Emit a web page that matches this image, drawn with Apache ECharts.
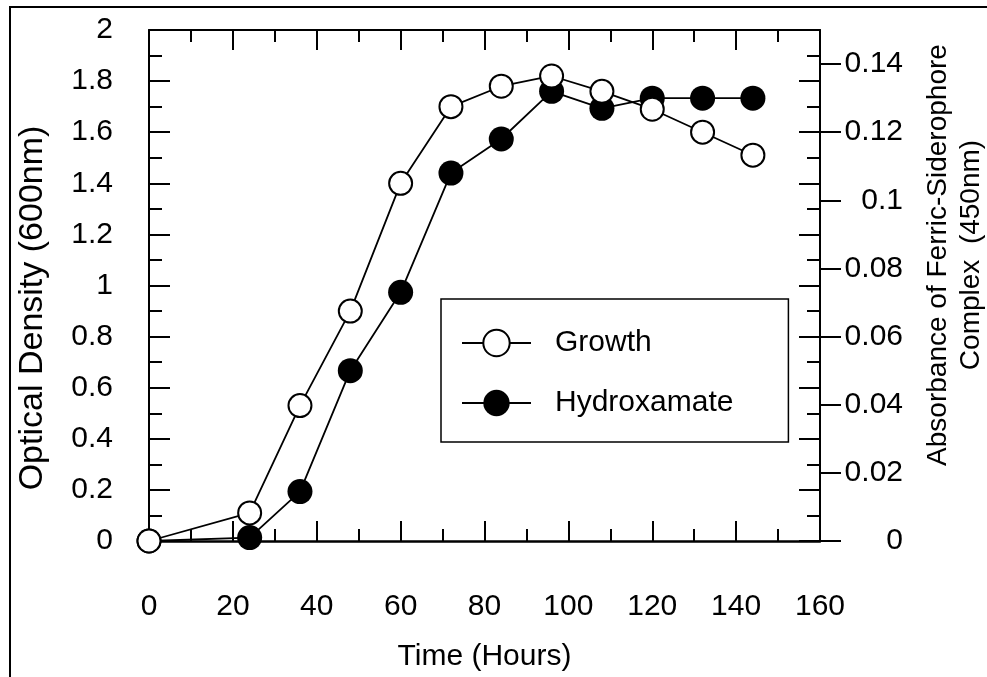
<!DOCTYPE html>
<html>
<head>
<meta charset="utf-8">
<script src="https://cdn.jsdelivr.net/npm/echarts@6/dist/echarts.min.js"></script>
<style>
html,body{margin:0;padding:0;background:#fff;}
#chart{width:987px;height:677px;}
</style>
</head>
<body>
<div id="chart"></div>
<script>
// ---- data ----
var hours = [0, 24, 36, 48, 60, 72, 84, 96, 108, 120, 132, 144];
var growthOD = [0, 0.11, 0.53, 0.90, 1.40, 1.70, 1.78, 1.82, 1.76, 1.69, 1.60, 1.51];
var hydroxamateAbs = [0, 0.001, 0.0145, 0.050, 0.073, 0.108, 0.118, 0.132, 0.127, 0.130, 0.130, 0.130];
var rightTickValues = [0, 0.02, 0.04, 0.06, 0.08, 0.1, 0.12, 0.14];
var seriesNames = ['Growth', 'Hydroxamate'];
var xTitle = 'Time (Hours)';
var yLeftTitle = 'Optical Density (600nm)';
var yRightTitle = 'Absorbance of Ferric-Siderophore\nComplex  (450nm)';

function pairs(xs, ys) { return xs.map(function (x, i) { return [x, ys[i]]; }); }

var FONT = '"Liberation Sans", Arial, sans-serif';
var chart = echarts.init(document.getElementById('chart'), null, { renderer: 'canvas' });

var tickStyle = { color: '#000', width: 2 };
var option = {
  backgroundColor: '#fff',
  animation: false,
  textStyle: { fontFamily: FONT, color: '#000' },
  grid: { left: 149, top: 30, right: 167, bottom: 129, containLabel: false },
  legend: {
    left: 441, top: 299,
    orient: 'vertical',
    data: seriesNames,
    itemWidth: 69, itemHeight: 33, itemGap: 30,
    padding: [29, 55, 24, 20],
    borderColor: '#000', borderWidth: 1.5, backgroundColor: '#fff',
    textStyle: { fontSize: 30, fontFamily: FONT, color: '#000', padding: [0, 0, 0, 19] },
    selectedMode: false
  },
  xAxis: [{
    type: 'value', position: 'bottom', min: 0, max: 160, interval: 20,
    axisLine: { onZero: false, lineStyle: { color: '#000', width: 2.5 } },
    axisTick: { inside: true, length: 20, lineStyle: tickStyle },
    minorTick: { show: true, splitNumber: 2, length: 12, lineStyle: tickStyle },
    splitLine: { show: false },
    axisLabel: { fontSize: 30, fontFamily: FONT, color: '#000', margin: 51 },
    name: xTitle, nameLocation: 'middle', nameGap: 101,
    nameTextStyle: { fontSize: 30, fontFamily: FONT, color: '#000' }
  }, {
    type: 'value', position: 'top', min: 0, max: 160, interval: 20,
    axisLine: { onZero: false, lineStyle: { color: '#000', width: 2 } },
    axisTick: { inside: true, length: 20, lineStyle: tickStyle },
    minorTick: { show: true, splitNumber: 2, length: 12, lineStyle: tickStyle },
    splitLine: { show: false },
    axisLabel: { show: false }
  }],
  yAxis: [{
    type: 'value', position: 'left', min: 0, max: 2, interval: 0.2,
    axisLine: { show: true, onZero: false, lineStyle: { color: '#000', width: 2 } },
    axisTick: { inside: true, length: 21, lineStyle: tickStyle },
    minorTick: { show: true, splitNumber: 2, length: 13, lineStyle: tickStyle },
    splitLine: { show: false },
    axisLabel: { fontSize: 30, fontFamily: FONT, color: '#000', margin: 36, padding: [6, 0, 0, 0],
      formatter: function (v) { return String(parseFloat(v.toFixed(1))); } }
  }, {
    type: 'value', position: 'right', min: 0, max: 0.15,
    axisLine: { show: true, onZero: false, lineStyle: { color: '#000', width: 2 } },
    axisTick: { inside: false, length: 21, lineStyle: tickStyle, customValues: rightTickValues },
    splitLine: { show: false },
    axisLabel: { fontSize: 30, fontFamily: FONT, color: '#000', margin: 83, align: 'right', padding: [6, 0, 0, 0],
      customValues: rightTickValues,
      formatter: function (v) { return String(parseFloat(v.toFixed(2))); } }
  }, {
    type: 'value', position: 'right', min: 0, max: 2, interval: 0.2,
    axisLine: { show: false, onZero: false },
    axisTick: { inside: true, length: 21, lineStyle: tickStyle },
    minorTick: { show: true, splitNumber: 2, length: 13, lineStyle: tickStyle },
    splitLine: { show: false },
    axisLabel: { show: false }
  }],
  series: [{
    name: seriesNames[0], type: 'line', xAxisIndex: 0, yAxisIndex: 0, z: 3,
    data: pairs(hours, growthOD),
    symbol: 'circle', symbolSize: 23,
    lineStyle: { color: '#000', width: 1.8 },
    itemStyle: { color: '#fff', borderColor: '#000', borderWidth: 2 }
  }, {
    name: seriesNames[1], type: 'line', xAxisIndex: 0, yAxisIndex: 1, z: 2,
    data: pairs(hours, hydroxamateAbs),
    symbol: 'circle', symbolSize: 25,
    lineStyle: { color: '#000', width: 1.8 },
    itemStyle: { color: '#000', borderColor: '#000', borderWidth: 0 }
  }],
  graphic: [{
    type: 'rect', z: 100, silent: true,
    shape: { x: 10, y: 7, width: 1000, height: 700 },
    style: { fill: 'none', stroke: '#000', lineWidth: 2 }
  }, {
    type: 'text', x: 33, y: 308, rotation: Math.PI / 2,
    style: { text: yLeftTitle, font: '34px ' + FONT, fill: '#000', align: 'center', verticalAlign: 'middle' }
  }, {
    type: 'text', x: 955, y: 255, rotation: Math.PI / 2,
    style: { text: yRightTitle, font: '28px ' + FONT, fill: '#000', align: 'center', verticalAlign: 'middle', lineHeight: 33 }
  }]
};
chart.setOption(option);
</script>
</body>
</html>
